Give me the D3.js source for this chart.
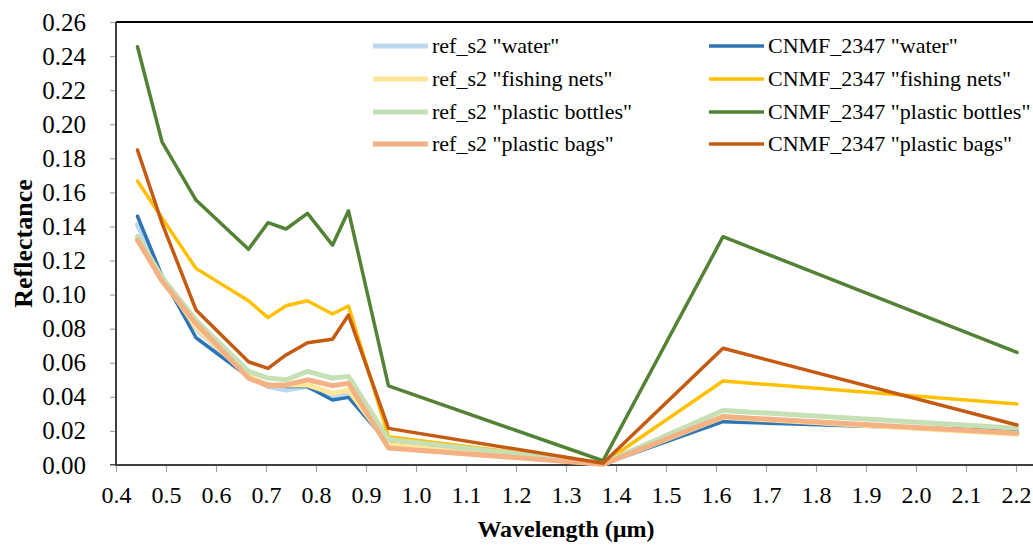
<!DOCTYPE html>
<html>
<head>
<meta charset="utf-8">
<script src="https://cdn.jsdelivr.net/npm/d3@7/dist/d3.min.js"></script>
<style>
  html, body { margin: 0; padding: 0; background: #fff; }
  svg { display: block; }
</style>
</head>
<body>
<svg id="chart" width="1033" height="547" style="font-family:'Liberation Serif';"></svg>
<script>
// Sentinel-2 band centre wavelengths (µm)
const wavelengths = [0.443, 0.492, 0.560, 0.665, 0.704, 0.740, 0.783, 0.833, 0.865, 0.945, 1.374, 1.614, 2.202];

// Reference spectra (ref_s2)
const refWater   = [0.141, 0.110, 0.080, 0.052, 0.046, 0.044, 0.046, 0.040, 0.042, 0.014, 0.0005, 0.027, 0.019];
const refNets    = [0.134, 0.110, 0.081, 0.052, 0.047, 0.047, 0.047, 0.042, 0.044, 0.012, 0.0005, 0.028, 0.018];
const refBottles = [0.134, 0.110, 0.085, 0.055, 0.051, 0.050, 0.055, 0.051, 0.052, 0.015, 0.001, 0.032, 0.0215];
const refBags    = [0.132, 0.108, 0.083, 0.051, 0.0466, 0.047, 0.050, 0.0466, 0.048, 0.010, 0.0005, 0.0284, 0.0186];

// Unmixed endmember spectra (CNMF_2347)
const cnmfWater   = [0.146, 0.111, 0.0747, 0.0518, 0.0475, 0.046, 0.046, 0.0381, 0.0397, 0.0127, 0.0005, 0.0254, 0.020];
const cnmfNets    = [0.1667, 0.145, 0.1154, 0.0964, 0.0865, 0.0935, 0.0964, 0.0886, 0.0933, 0.0166, 0.001, 0.0493, 0.0358];
const cnmfBottles = [0.2455, 0.1897, 0.1555, 0.1266, 0.1422, 0.1385, 0.1477, 0.129, 0.1492, 0.0464, 0.0025, 0.134, 0.0661];
const cnmfBags    = [0.1849, 0.142, 0.091, 0.0606, 0.0567, 0.0646, 0.0718, 0.0738, 0.088, 0.0215, 0.001, 0.0685, 0.0235];

const xTicks = d3.range(4, 23).map(d => d / 10);
const yTicks = d3.range(0, 27, 2).map(d => d / 100);

const series = [
  { name: 'ref_s2 "water"',            values: refWater,    color: "#bdd7ee", width: 5,   col: 0, row: 0 },
  { name: 'CNMF_2347 "water"',         values: cnmfWater,   color: "#2e75b6", width: 3.5, col: 1, row: 0 },
  { name: 'ref_s2 "fishing nets"',     values: refNets,     color: "#ffe699", width: 5,   col: 0, row: 1 },
  { name: 'CNMF_2347 "fishing nets"',  values: cnmfNets,    color: "#ffc000", width: 3.5, col: 1, row: 1 },
  { name: 'ref_s2 "plastic bottles"',  values: refBottles,  color: "#c5e0b4", width: 5,   col: 0, row: 2 },
  { name: 'CNMF_2347 "plastic bottles"', values: cnmfBottles, color: "#548235", width: 3.5, col: 1, row: 2 },
  { name: 'ref_s2 "plastic bags"',     values: refBags,     color: "#f4b183", width: 5,   col: 0, row: 3 },
  { name: 'CNMF_2347 "plastic bags"',  values: cnmfBags,    color: "#c55a11", width: 3.5, col: 1, row: 3 }
];

const svg = d3.select("#chart");
const plotLeft = 116, plotRight = 1016, plotTop = 22, plotBottom = 465;

const x = d3.scaleLinear().domain([0.4, 2.2]).range([plotLeft, plotRight]);
const y = d3.scaleLinear().domain([0, 0.26]).range([plotBottom, plotTop]);

// plot frame top edge
svg.append("line")
  .attr("x1", plotLeft).attr("x2", 1033).attr("y1", plotTop).attr("y2", plotTop)
  .attr("stroke", "#000").attr("stroke-width", 2);

// x axis
const xAxis = svg.append("g").attr("transform", `translate(0,${plotBottom})`)
  .call(d3.axisBottom(x).tickValues(xTicks).tickFormat(d3.format(".1f")).tickSize(7).tickPadding(14))
  .attr("font-family", null).attr("font-size", null);
xAxis.select(".domain").remove();
xAxis.selectAll(".tick line").attr("stroke", "#a6a6a6").attr("stroke-width", 1.2);
xAxis.selectAll(".tick text").attr("font-size", 24).attr("fill", "#000");
xAxis.append("line").attr("x1", plotLeft - 6).attr("x2", 1033).attr("y1", 0).attr("y2", 0)
  .attr("stroke", "#404040").attr("stroke-width", 2);

// y axis
const yAxis = svg.append("g").attr("transform", `translate(${plotLeft},0)`)
  .call(d3.axisLeft(y).tickValues(yTicks).tickFormat(d3.format(".2f")).tickSize(6).tickPadding(24))
  .attr("font-family", null).attr("font-size", null);
yAxis.select(".domain").remove();
yAxis.selectAll(".tick line").attr("stroke", "#a6a6a6").attr("stroke-width", 1.2);
yAxis.selectAll(".tick text").attr("font-size", 25).attr("fill", "#000");
yAxis.append("line").attr("x1", 0).attr("x2", 0).attr("y1", plotTop).attr("y2", plotBottom + 1)
  .attr("stroke", "#404040").attr("stroke-width", 2);

// spectra
const line = d3.line().x((d, i) => x(wavelengths[i])).y(d => y(d));
svg.append("g").selectAll("path").data(series).join("path")
  .attr("d", d => line(d.values))
  .attr("fill", "none")
  .attr("stroke", d => d.color)
  .attr("stroke-width", d => d.width)
  .attr("stroke-linejoin", "round")
  .attr("stroke-linecap", "round");

// legend
const legendCols = [373, 709];
const legendRows = [46, 79, 112, 144];
const lg = svg.append("g").selectAll("g").data(series).join("g")
  .attr("transform", d => `translate(${legendCols[d.col]},${legendRows[d.row]})`);
lg.append("line").attr("x1", 0).attr("x2", 55).attr("y1", 0).attr("y2", 0)
  .attr("stroke", d => d.color).attr("stroke-width", d => d.width);
lg.append("text").attr("x", 59).attr("y", 0).attr("dy", "0.34em")
  .attr("font-size", 22).attr("fill", "#000")
  .text(d => d.name);

// axis titles
svg.append("text")
  .attr("transform", `translate(32,${(plotTop + plotBottom) / 2}) rotate(-90)`)
  .attr("text-anchor", "middle")
  .attr("font-size", 26).attr("font-weight", "bold")
  .text("Reflectance");
svg.append("text")
  .attr("x", (plotLeft + plotRight) / 2).attr("y", 537)
  .attr("text-anchor", "middle")
  .attr("font-size", 24).attr("font-weight", "bold")
  .text("Wavelength (µm)");
</script>
</body>
</html>
